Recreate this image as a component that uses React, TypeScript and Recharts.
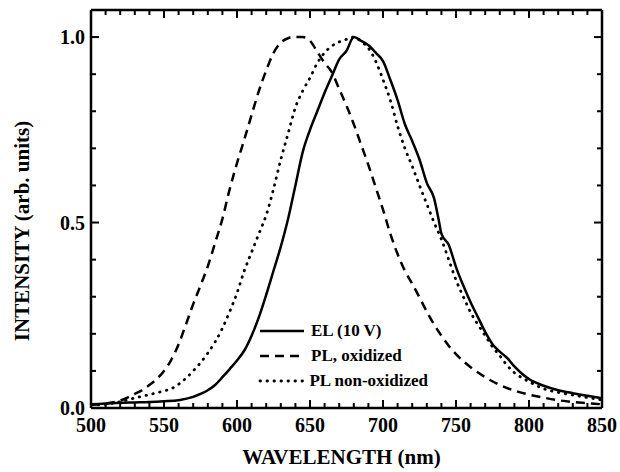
import { Label, Legend, Line, LineChart, XAxis, YAxis } from "recharts";

const FONT = '"Liberation Serif", "Times New Roman", serif';
const TICK_COLOR = "#000";

const seriesNames = ["EL (10 V)", "PL, oxidized", "PL non-oxidized"];

// EL (10 V) - solid
const elNm = [500, 510, 520, 530, 540, 550, 560, 570, 575, 580, 585, 590, 595, 600, 605, 610, 615, 620, 625, 630, 635, 640, 645, 650, 655, 660, 665, 670, 675, 680, 685, 690, 695, 700, 705, 710, 715, 720, 725, 730, 735, 738, 740, 745, 750, 755, 760, 765, 770, 775, 780, 785, 790, 795, 800, 810, 820, 830, 840, 850];
const elValues = [0.01, 0.012, 0.014, 0.015, 0.016, 0.018, 0.021, 0.03, 0.038, 0.048, 0.062, 0.083, 0.105, 0.128, 0.155, 0.195, 0.245, 0.305, 0.37, 0.435, 0.51, 0.6, 0.69, 0.75, 0.8, 0.85, 0.895, 0.94, 0.963, 1.0, 0.99, 0.978, 0.958, 0.935, 0.885, 0.83, 0.765, 0.72, 0.67, 0.607, 0.565, 0.51, 0.47, 0.44, 0.38, 0.33, 0.285, 0.245, 0.205, 0.172, 0.152, 0.135, 0.112, 0.093, 0.078, 0.06, 0.048, 0.04, 0.033, 0.026];

// PL, oxidized - dashed
const oxNm = [500, 510, 520, 525, 530, 535, 540, 545, 550, 555, 560, 565, 570, 575, 580, 585, 590, 595, 600, 605, 610, 615, 620, 625, 630, 635, 640, 645, 650, 655, 660, 665, 670, 675, 680, 685, 690, 695, 700, 705, 710, 715, 720, 725, 730, 735, 740, 745, 750, 760, 770, 780, 790, 800, 810, 820, 830, 840, 850];
const oxValues = [0.008, 0.012, 0.02, 0.028, 0.038, 0.048, 0.062, 0.078, 0.1, 0.13, 0.172, 0.225, 0.28, 0.33, 0.382, 0.445, 0.51, 0.59, 0.66, 0.724, 0.79, 0.855, 0.91, 0.957, 0.985, 0.997, 1.0, 1.0, 0.99, 0.96, 0.93, 0.905, 0.86, 0.815, 0.765, 0.71, 0.655, 0.595, 0.535, 0.47, 0.415, 0.37, 0.335, 0.298, 0.26, 0.225, 0.195, 0.168, 0.145, 0.11, 0.083, 0.062, 0.047, 0.036, 0.028, 0.021, 0.016, 0.013, 0.01];

// PL non-oxidized - dotted
const nonOxNm = [500, 510, 520, 530, 540, 550, 555, 560, 565, 570, 575, 580, 585, 590, 595, 600, 605, 610, 615, 620, 625, 630, 635, 640, 645, 650, 655, 660, 665, 670, 675, 680, 685, 690, 695, 700, 705, 710, 715, 720, 725, 730, 735, 740, 745, 750, 755, 760, 765, 770, 775, 780, 785, 790, 795, 800, 810, 820, 830, 840, 850];
const nonOxValues = [0.008, 0.01, 0.017, 0.027, 0.036, 0.046, 0.052, 0.064, 0.08, 0.1, 0.122, 0.148, 0.178, 0.215, 0.26, 0.31, 0.37, 0.42, 0.47, 0.52, 0.59, 0.67, 0.74, 0.81, 0.855, 0.89, 0.93, 0.958, 0.976, 0.987, 0.994, 1.0, 0.988, 0.97, 0.935, 0.885, 0.83, 0.76, 0.7, 0.652, 0.6, 0.55, 0.5, 0.455, 0.4, 0.345, 0.3, 0.258, 0.225, 0.195, 0.165, 0.141, 0.115, 0.095, 0.082, 0.071, 0.052, 0.042, 0.035, 0.028, 0.022];

const xTicks = [500, 510, 520, 530, 540, 550, 560, 570, 580, 590, 600, 610, 620, 630, 640, 650, 660, 670, 680, 690, 700, 710, 720, 730, 740, 750, 760, 770, 780, 790, 800, 810, 820, 830, 840, 850];
const xLabels = [500, 550, 600, 650, 700, 750, 800, 850];
const yTicks = [0, 0.1, 0.2, 0.3, 0.4, 0.5, 0.6, 0.7, 0.8, 0.9, 1.0];
const yLabels = [0, 0.5, 1.0];

const toPoints = (nm: number[], vals: number[]) => nm.map((x, i) => ({ x, y: vals[i] }));

const elData = toPoints(elNm, elValues);
const oxData = toPoints(oxNm, oxValues);
const nonOxData = toPoints(nonOxNm, nonOxValues);

const axisLine = { stroke: "#000", strokeWidth: 2.5 };

// ticks point into the plot, like the original frame
const bottomTick = (p: any) => {
  const major = xLabels.includes(p.payload?.value);
  return (
    <g>
      <line x1={p.x} y1={p.y} x2={p.x} y2={p.y - (major ? 8 : 5)} stroke={TICK_COLOR} strokeWidth={2} />
      {major && (
        <text x={p.x} y={p.y + 24} textAnchor="middle" fontFamily={FONT} fontWeight={700} fontSize={20} fill="#000">
          {p.payload.value}
        </text>
      )}
    </g>
  );
};

const topTick = (p: any) => {
  const major = xLabels.includes(p.payload?.value);
  return <line x1={p.x} y1={p.y} x2={p.x} y2={p.y + (major ? 8 : 5)} stroke={TICK_COLOR} strokeWidth={2} />;
};

const isMajorY = (v: number) => yLabels.some((m) => Math.abs(m - v) < 1e-6);

const leftTick = (p: any) => {
  const v = Number(p.payload?.value);
  const major = isMajorY(v);
  return (
    <g>
      <line x1={p.x} y1={p.y} x2={p.x + (major ? 8 : 5)} y2={p.y} stroke={TICK_COLOR} strokeWidth={2} />
      {major && (
        <text x={p.x - 6} y={p.y + 7} textAnchor="end" fontFamily={FONT} fontWeight={700} fontSize={20} fill="#000">
          {v.toFixed(1)}
        </text>
      )}
    </g>
  );
};

const rightTick = (p: any) => {
  const major = isMajorY(Number(p.payload?.value));
  return <line x1={p.x} y1={p.y} x2={p.x - (major ? 8 : 5)} y2={p.y} stroke={TICK_COLOR} strokeWidth={2} />;
};

function LegendBox(props: any) {
  const payload = [...(props.payload ?? [])].sort(
    (a: any, b: any) => seriesNames.indexOf(a.value) - seriesNames.indexOf(b.value)
  );
  return (
    <div style={{ fontFamily: FONT, fontWeight: 700, fontSize: 17, color: "#000" }}>
      {payload.map((entry: any, i: number) => (
        <div key={i} style={{ display: "flex", alignItems: "center", height: 25 }}>
          <svg width={48} height={10}>
            <line
              x1={2}
              y1={5}
              x2={46}
              y2={5}
              stroke="#000"
              strokeWidth={entry.payload?.strokeWidth ?? 2.5}
              strokeDasharray={entry.payload?.strokeDasharray}
              strokeLinecap={entry.payload?.strokeLinecap}
            />
          </svg>
          <span style={{ marginLeft: 5, whiteSpace: "nowrap" }}>{entry.value}</span>
        </div>
      ))}
    </div>
  );
}

export default function App() {
  return (
    <div style={{ position: "absolute", left: 0, top: 0, width: 620, height: 472, background: "#fff" }}>
      <LineChart width={620} height={472} margin={{ top: 0, right: 8, left: 0, bottom: 0 }}>
        <XAxis
          dataKey="x"
          type="number"
          domain={[500, 850]}
          ticks={xTicks}
          interval={0}
          height={64}
          tickSize={0}
          tickMargin={0}
          tickLine={false}
          axisLine={axisLine}
          tick={bottomTick}
          allowDataOverflow
        >
          <Label
            content={(p: any) => (
              <text
                x={p.viewBox.x + p.viewBox.width / 2 - 5}
                y={p.viewBox.y + 56}
                textAnchor="middle"
                fontFamily={FONT}
                fontWeight={700}
                fontSize={21}
                fill="#000"
              >
                WAVELENGTH (nm)
              </text>
            )}
          />
        </XAxis>
        <XAxis
          xAxisId="top"
          orientation="top"
          dataKey="x"
          type="number"
          domain={[500, 850]}
          ticks={xTicks}
          interval={0}
          height={10}
          tickSize={0}
          tickMargin={0}
          tickLine={false}
          axisLine={axisLine}
          tick={topTick}
          allowDataOverflow
        />
        <YAxis
          type="number"
          domain={[0, 1.073]}
          ticks={yTicks}
          interval={0}
          width={91}
          tickSize={0}
          tickMargin={0}
          tickLine={false}
          axisLine={axisLine}
          tick={leftTick}
          allowDataOverflow
        >
          <Label
            content={(p: any) => {
              const cx = 29;
              const cy = p.viewBox.y + p.viewBox.height / 2 + 22;
              return (
                <text
                  x={cx}
                  y={cy}
                  transform={`rotate(-90, ${cx}, ${cy})`}
                  textAnchor="middle"
                  fontFamily={FONT}
                  fontWeight={700}
                  fontSize={21}
                  fill="#000"
                >
                  INTENSITY (arb. units)
                </text>
              );
            }}
          />
        </YAxis>
        <YAxis
          yAxisId="right"
          orientation="right"
          type="number"
          domain={[0, 1.073]}
          ticks={yTicks}
          interval={0}
          width={10}
          tickSize={0}
          tickMargin={0}
          tickLine={false}
          axisLine={axisLine}
          tick={rightTick}
          allowDataOverflow
        />
        <Legend
          layout="vertical"
          align="center"
          verticalAlign="middle"
          width={170}
          wrapperStyle={{ left: 258, top: 318 }}
          content={LegendBox}
        />
        <Line data={elData} dataKey="y" name={seriesNames[0]} type="monotone" stroke="#000" strokeWidth={2.5} dot={false} activeDot={false} isAnimationActive={false} />
        <Line data={oxData} dataKey="y" name={seriesNames[1]} type="monotone" stroke="#000" strokeWidth={2.5} strokeDasharray="9 6" dot={false} activeDot={false} isAnimationActive={false} />
        <Line data={nonOxData} dataKey="y" name={seriesNames[2]} type="monotone" stroke="#000" strokeWidth={2.8} strokeDasharray="0.5 6.5" strokeLinecap="round" dot={false} activeDot={false} isAnimationActive={false} />
      </LineChart>
    </div>
  );
}
